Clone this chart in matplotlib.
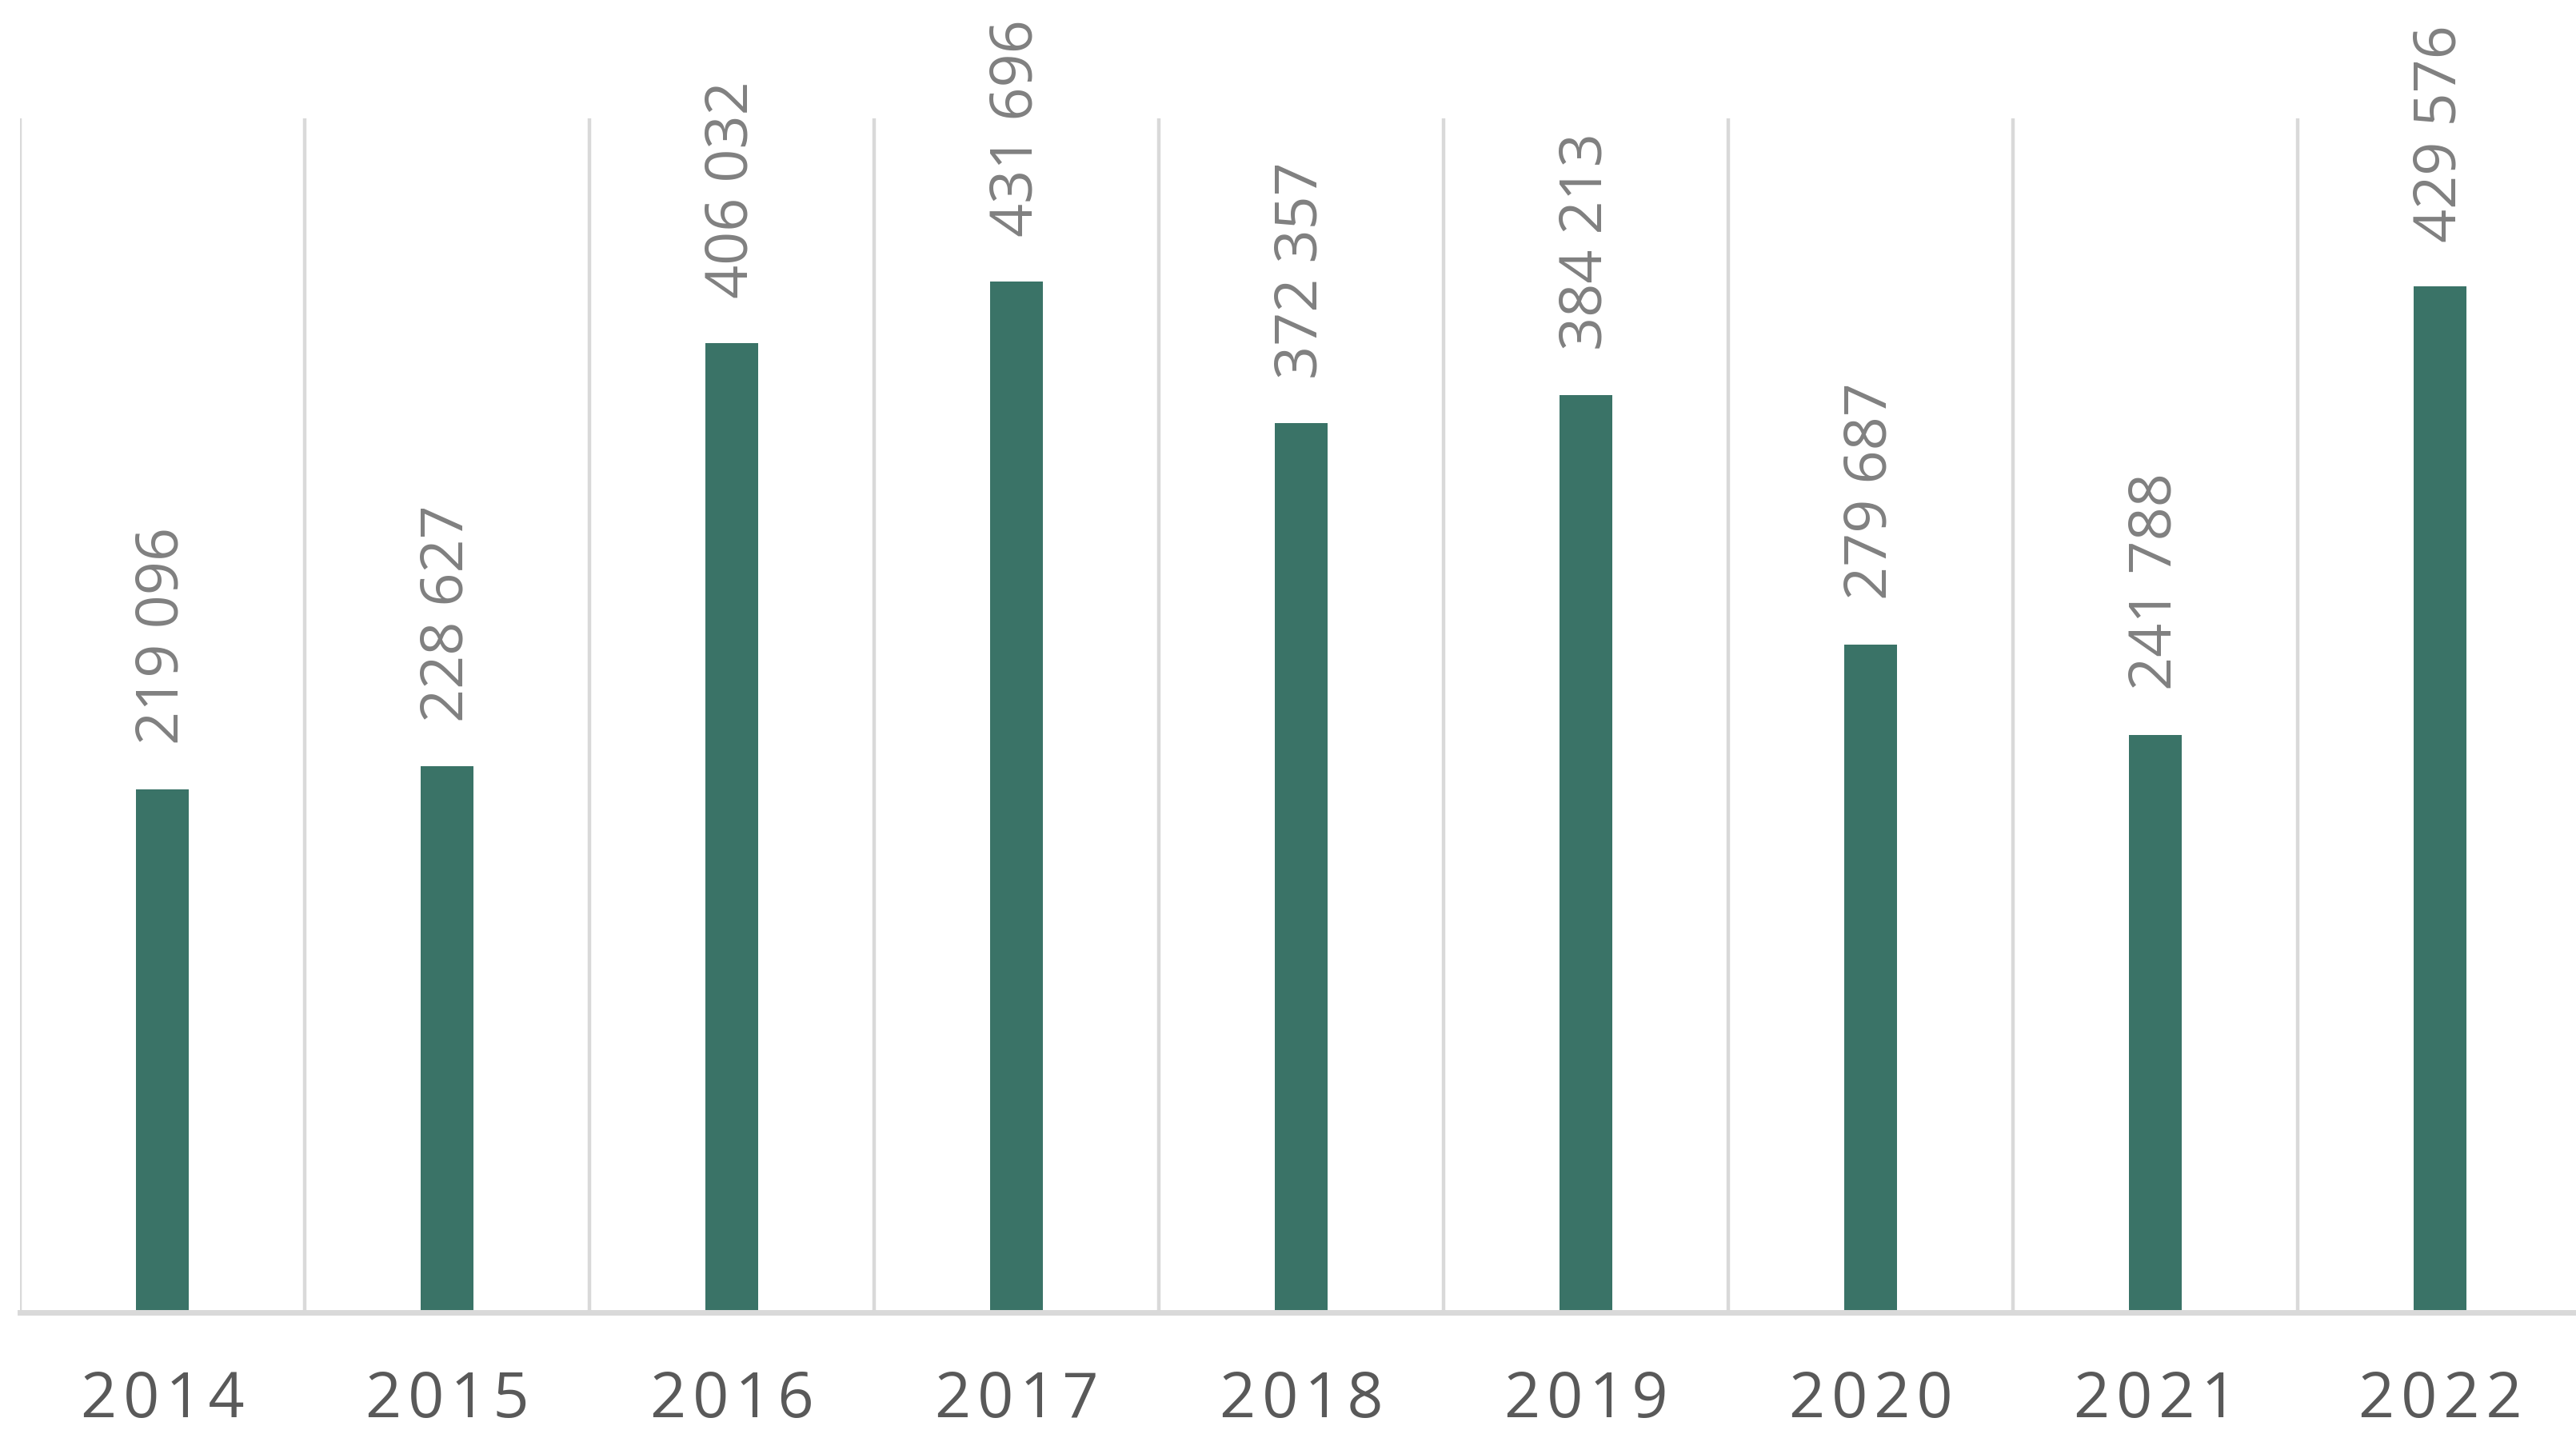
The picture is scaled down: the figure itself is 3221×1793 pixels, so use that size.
import matplotlib.pyplot as plt
import numpy as np

# chart data
years = ['2014', '2015', '2016', '2017', '2018', '2019', '2020', '2021', '2022']
values = [219096, 228627, 406032, 431696, 372357, 384213, 279687, 241788, 429576]

BAR_COLOR = '#3A7367'
GRID_COLOR = '#D9D9D9'

plt.rcParams['font.family'] = ['Open Sans', 'DejaVu Sans']

fig = plt.figure(figsize=(32.21, 17.93), dpi=100)
ax = fig.add_axes([0.0078, 0.0848, 0.9947, 0.8327])

x = np.arange(len(years))
ax.bar(x, values, width=0.185, color=BAR_COLOR, zorder=3)

# value labels, rotated
for xi, v in zip(x, values):
    txt = f'{v:,}'.replace(',', ' ')
    ax.annotate(txt, (xi, v), xytext=(0, 40), textcoords='offset points',
                rotation=90, ha='center', va='bottom',
                fontsize=53, color='#808080')

# vertical separators between categories
for b in np.arange(len(years)) - 0.5:
    ax.axvline(b, color=GRID_COLOR, lw=3.2, zorder=1)

ax.set_xlim(-0.5, len(years) - 0.5)
ax.set_ylim(0, 500000)

ax.set_xticks(x)
ax.set_xticklabels(['\u200a'.join(y) for y in years], fontsize=57, color='#595959')
ax.tick_params(axis='x', length=0, pad=51)
ax.set_yticks([])

for s in ['top', 'right', 'left']:
    ax.spines[s].set_visible(False)
ax.spines['bottom'].set_color(GRID_COLOR)
ax.spines['bottom'].set_linewidth(5)
ax.spines['bottom'].set_zorder(4)

fig.savefig('out.png', dpi=100)
